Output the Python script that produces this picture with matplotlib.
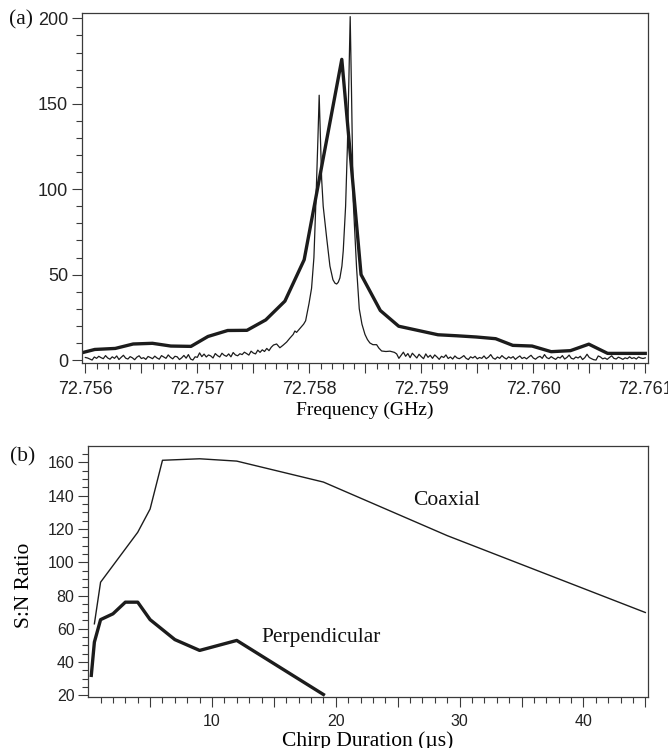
import numpy as np
import matplotlib
matplotlib.use("Agg")
import matplotlib.pyplot as plt

# ---------------- data: panel (a) ----------------
coarse_freq = [72.755989, 72.756084, 72.756267, 72.756427, 72.756599, 72.756763,
               72.756943, 72.757095, 72.757271, 72.757443, 72.757611, 72.757782,
               72.757954, 72.758290, 72.758462, 72.758634, 72.758798, 72.759149,
               72.759320, 72.759490, 72.759664, 72.759817, 72.759989, 72.760160,
               72.760332, 72.760496, 72.760664, 72.761000]
coarse_int = [4.6, 6.2, 6.8, 9.4, 9.8, 8.2, 8.0, 13.8, 17.3, 17.4, 23.5, 34.5,
              58.7, 176.0, 50.0, 29.0, 19.8, 14.8, 14.2, 13.5, 12.5, 8.6, 8.2,
              4.9, 5.5, 9.3, 3.9, 3.9]

# fine spectrum: left baseline (72.75600 .. 72.75768, step 20 kHz)
fine_left_start = 72.75600
fine_step = 0.00002
fine_left_int = [1.5, 1.2, 0.6, 0.0, 1.8, 1.0, 2.2, 1.4, 0.8, 2.6,
                 1.2, 0.5, 1.9, 1.0, 2.4, 0.3, 1.6, 2.8, 1.1, 0.6,
                 2.0, 1.3, 0.2, 1.7, 2.5, 0.9, 1.4, 0.4, 2.1, 1.5,
                 0.8, 2.3, 1.2, 0.5, 2.6, 1.8, 1.0, 3.0, 1.6, 0.7,
                 2.2, 1.9, 0.3, 1.3, 2.7, 1.1, 3.2, 0.6, 0.0, 1.9,
                 1.6, 4.2, 2.0, 3.5, 1.8, 3.0, 2.4, 1.2, 3.8, 2.6,
                 1.8, 4.0, 2.8, 2.2, 3.6, 1.9, 4.4, 3.0, 2.5, 3.7,
                 3.2, 4.6, 3.8, 2.9, 5.2, 4.1, 3.6, 5.8, 4.5, 6.0,
                 5.0, 6.8, 5.5, 7.5, 8.8]
# fine spectrum: central doublet
fine_mid_freq = [72.757708, 72.757737, 72.757764, 72.757797, 72.757826, 72.757856,
                 72.757871, 72.757886, 72.757910, 72.757931, 72.757949, 72.757967,
                 72.757979, 72.757997, 72.758020, 72.758041, 72.758059, 72.758077,
                 72.758088, 72.758099, 72.758110, 72.758124, 72.758154, 72.758184,
                 72.758211, 72.758229, 72.758244, 72.758258, 72.758273, 72.758291,
                 72.758303, 72.758324, 72.758340, 72.758352, 72.758365, 72.758376,
                 72.758392, 72.758422, 72.758446, 72.758470, 72.758497, 72.758519,
                 72.758541, 72.758568, 72.758601, 72.758621, 72.758646, 72.758684,
                 72.758720, 72.758747]
fine_mid_int = [9.4, 7.2, 8.6, 10.5, 12.8, 15.0, 17.0, 16.2, 18.0, 19.5, 21.0, 23.0,
                27.0, 33.0, 42.0, 60.0, 93.0, 130.0, 155.0, 130.0, 106.0, 90.0, 72.0,
                55.0, 47.0, 45.0, 44.5, 45.5, 48.0, 55.0, 64.0, 90.0, 125.0, 160.0,
                201.0, 160.0, 93.0, 54.0, 30.0, 21.0, 15.0, 12.0, 10.0, 9.0, 9.0,
                7.0, 5.3, 5.0, 5.2, 4.7]
# fine spectrum: right baseline (72.75876 .. 72.76100, step 20 kHz)
fine_right_start = 72.75876
fine_right_int = [4.5, 3.6, 1.0, 2.8, 4.6, 2.2, 3.8, 1.4, 4.0, 2.6,
                  1.2, 3.4, 2.0, 0.8, 3.6, 1.6, 2.8, 1.0, 3.0, 1.8,
                  0.4, 2.2, 1.5, 3.0, 0.9, 1.8, 0.6, 2.4, 1.2, 0.8,
                  1.6, 2.6, 1.0, 0.3, 1.9, 1.2, 2.2, 0.7, 1.5, 1.0,
                  2.4, 0.8, 1.7, 3.2, 1.2, 0.5, 1.8, 1.0, 2.6, 1.4,
                  0.6, 1.9, 1.1, 2.0, 0.4, 1.5, 2.4, 0.9, 1.6, 0.7,
                  1.8, 2.8, 1.2, 0.5, 1.6, 2.2, 1.0, 3.2, 1.4, 0.8,
                  2.0, 1.1, 0.4, 1.7, 1.2, 2.6, 0.6, 1.5, 2.9, 1.0,
                  0.6, 1.8, 1.2, 2.2, 0.3, 1.4, 3.4, 1.5, 0.8, 0.2,
                  0.0, 2.4, 1.8, 0.7, 1.2, 0.4, 1.5, 2.5, 1.0, 0.6,
                  1.7, 1.1, 0.4, 1.3, 0.8, 1.9, 0.9, 1.4, 0.6, 1.8,
                  1.2, 0.9, 1.3]

freq_major = [72.756, 72.7565, 72.757, 72.7575, 72.758, 72.7585, 72.759,
              72.7595, 72.760, 72.7605, 72.761]
freq_labels = ["72.756", "", "72.757", "", "72.758", "", "72.759", "",
               "72.760", "", "72.761"]
int_major = [0, 50, 100, 150, 200]

# ---------------- data: panel (b) ----------------
coax_t = [0.5, 1, 4, 5, 6, 9, 12, 19, 29, 45]
coax_sn = [63, 88, 118, 132, 161.3, 162.2, 160.8, 148.2, 116, 69.8]
perp_t = [0.25, 0.5, 1, 2, 3, 4, 5, 7, 9, 12, 19]
perp_sn = [32, 52, 65.5, 69, 76, 76, 65.5, 53.5, 47, 53, 20.5]

t_major = [5, 10, 15, 20, 25, 30, 35, 40, 45]
t_labels = ["", "10", "", "20", "", "30", "", "40", ""]
sn_major = [20, 40, 60, 80, 100, 120, 140, 160]

# ---------------- styling ----------------
SERIF = ["Liberation Serif", "DejaVu Serif"]
TICKFONT = ["Liberation Sans Narrow", "Liberation Sans", "DejaVu Sans"]
INK = "#1c1c1c"
SPINE = "#3a3a3a"

fine_left_freq = fine_left_start + fine_step * np.arange(len(fine_left_int))
fine_right_freq = fine_right_start + fine_step * np.arange(len(fine_right_int))
fine_freq = np.concatenate([fine_left_freq, fine_mid_freq, fine_right_freq])
fine_int = np.concatenate([fine_left_int, fine_mid_int, fine_right_int])

W, H = 668, 748
fig = plt.figure(figsize=(W / 100, H / 100), dpi=100)

def px_axes(l, t, r, b):
    return fig.add_axes([l / W, 1 - b / H, (r - l) / W, (b - t) / H])

def style(ax, fs, major_len, minor_len, pad):
    for s in ax.spines.values():
        s.set_color(SPINE)
        s.set_linewidth(0.9)
    ax.tick_params(which="both", direction="out", colors=SPINE, width=0.8,
                   top=False, right=False)
    ax.tick_params(which="major", length=major_len)
    ax.tick_params(which="minor", length=minor_len)
    ax.tick_params(axis="x", pad=pad)
    ax.tick_params(axis="y", pad=2.5)
    for lab in ax.get_xticklabels() + ax.get_yticklabels():
        lab.set_family(TICKFONT)
        lab.set_fontsize(fs)
        lab.set_color("#222222")

# ---- panel (a)
ax1 = px_axes(82, 12.7, 647.5, 363.3)
ax1.plot(fine_freq, fine_int, color=INK, lw=0.9, solid_joinstyle="round")
ax1.plot(coarse_freq, coarse_int, color=INK, lw=2.4, solid_joinstyle="round")
ax1.set_xlim(72.75597, 72.76102)
ax1.set_ylim(-1.9, 203.3)
ax1.set_xticks(freq_major)
ax1.set_xticklabels(freq_labels)
ax1.set_xticks(np.round(np.arange(72.756, 72.76101, 0.0001), 4), minor=True)
ax1.set_yticks(int_major)
ax1.set_yticks(np.arange(0, 201, 10), minor=True)
style(ax1, 13, 7.5, 4.5, 5.0)
ax1.set_xlabel("Frequency (GHz)", family=SERIF, fontsize=14)
ax1.xaxis.set_label_coords(0.5, -0.135)
ax1.xaxis.label.set_va("center")

# ---- panel (b)
ax2 = px_axes(87.7, 445.8, 648.4, 697)
ax2.plot(coax_t, coax_sn, color=INK, lw=1.0, solid_joinstyle="round")
ax2.plot(perp_t, perp_sn, color=INK, lw=2.4, solid_joinstyle="round")
ax2.set_xlim(-0.04, 45.25)
ax2.set_ylim(19, 170)
ax2.set_xticks(t_major)
ax2.set_xticklabels(t_labels)
ax2.set_xticks(np.arange(1, 46, 1), minor=True)
ax2.set_yticks(sn_major)
ax2.set_yticks(np.arange(20, 170, 5), minor=True)
style(ax2, 11.5, 7.0, 4.0, 5.5)
ax2.set_xlabel("Chirp Duration (\u00b5s)", family=SERIF, fontsize=15.5)
ax2.xaxis.set_label_coords(0.5, -0.195)
ax2.xaxis.label.set_va("baseline")
ax2.set_ylabel("S:N Ratio", family=SERIF, fontsize=15.5)
ax2.yaxis.set_label_coords(-0.112, 0.446)
ax2.yaxis.label.set_va("center")

ax2.text(28.95, 137.3, "Coaxial", family=SERIF, fontsize=15.5,
         ha="center", va="center", color="#111111")
ax2.text(18.84, 55, "Perpendicular", family=SERIF, fontsize=15.5,
         ha="center", va="center", color="#111111")

fig.text(9 / W, 1 - 20 / H, "(a)", family=SERIF, fontsize=15.5,
         ha="left", va="center", color="#111111")
fig.text(10 / W, 1 - 456.7 / H, "(b)", family=SERIF, fontsize=15.5,
         ha="left", va="center", color="#111111")

fig.savefig("out.png", dpi=100)
